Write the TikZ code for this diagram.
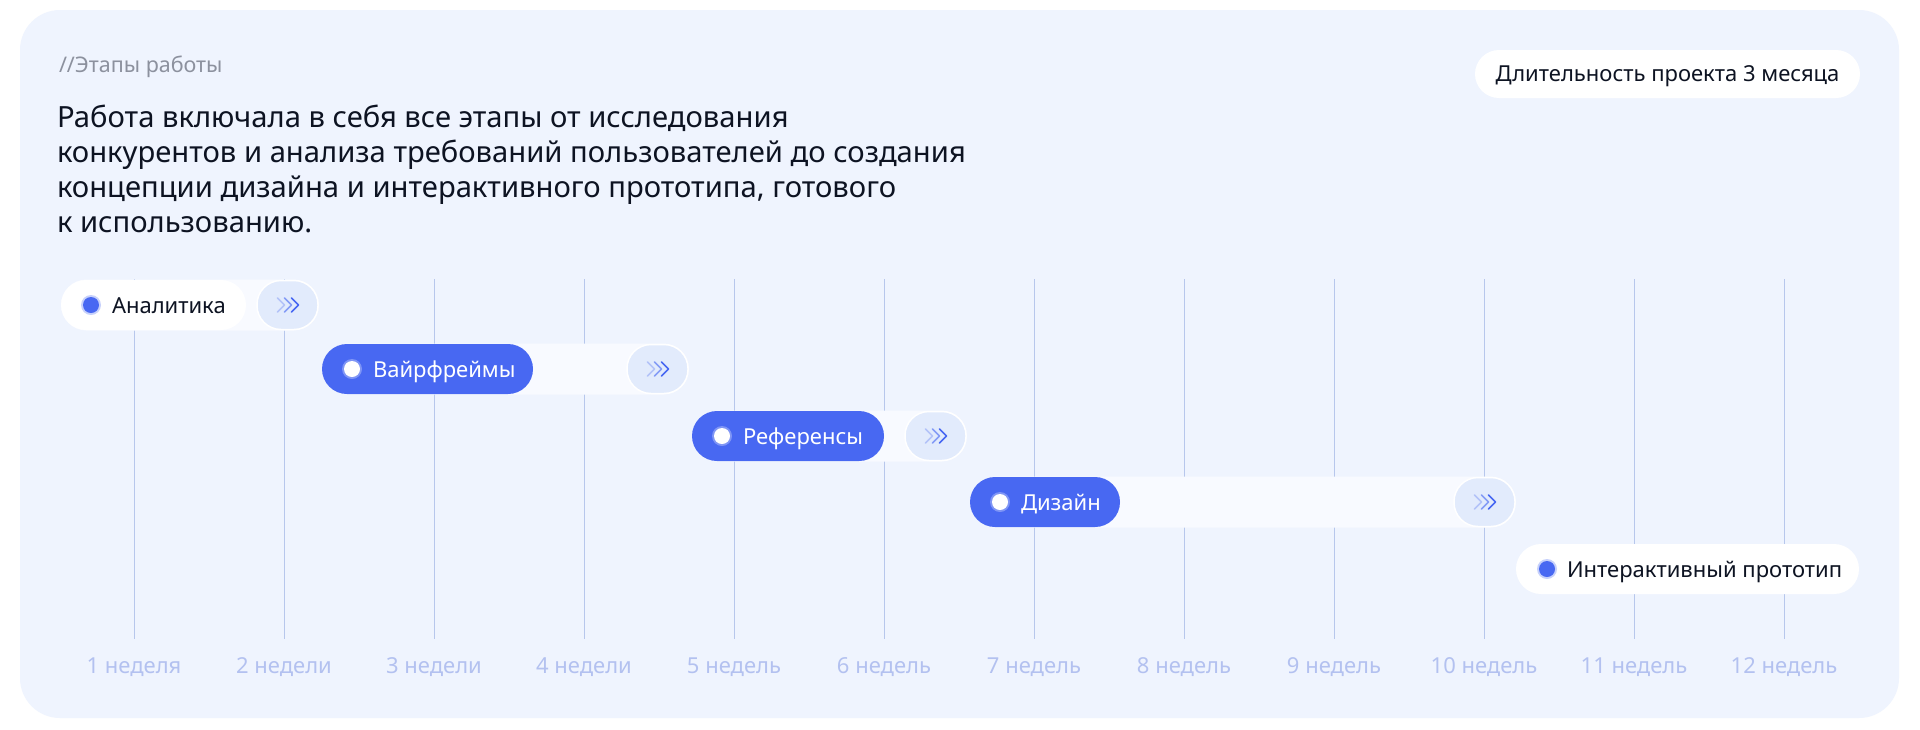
\documentclass[tikz,border=0pt]{standalone}
\usepackage{fontspec}
\setmainfont{Noto Sans}
\definecolor{panelbg}{HTML}{EFF4FE}
\definecolor{trackc}{HTML}{F8FAFF}
\definecolor{badgec}{HTML}{E2EBFC}
\definecolor{bluec}{HTML}{4868F2}
\definecolor{gridc}{HTML}{B7C7EC}
\definecolor{weekc}{HTML}{B3C1F0}
\definecolor{greyc}{HTML}{8C919E}
\definecolor{darkc}{HTML}{0D1322}
\newcommand\stagefont{\fontsize{22}{26}\selectfont}
\newcommand\introfont{\fontsize{29.2}{35}\selectfont}
\tikzset{
  txt/.style={inner sep=0pt, outer sep=0pt},
  badge/.style={rectangle, rounded corners=24pt, minimum width=61pt, minimum height=49pt, fill=badgec, draw=white, line width=1.5pt, inner sep=0pt},
  chev/.style={draw=bluec, line width=1.6pt, line cap=round, line join=round},
  dotn/.style={circle, inner sep=0pt, minimum size=16pt},
  gridline/.style={draw=gridc, line width=1pt},
  weeklbl/.style={txt, anchor=base, text=weekc, font=\stagefont},
}
% #1 name, #2 y, #3 left, #4 label right, #5 badge centre, #6 text, #7 pill, #8 dot, #9 text colour
\newcommand\stagebar[9]{%
  \fill[trackc, rounded corners=25.5pt] (#3,#2-25.5) rectangle (#5+31.5,#2+25.5);
  \node[badge] (#1b) at (#5,#2) {};
  \foreach \dx/\op in {0/0.3,7/0.6,14/1}{\draw[chev, opacity=\op] (#5-10+\dx,#2-7) -- ++(7,7) -- ++(-7,7);}
  \fill[#7, rounded corners=25pt] (#3,#2-25) rectangle (#4,#2+25);
  \fill[#8, opacity=0.3] (#3+30,#2) circle[radius=10];
  \node[dotn, fill=#8] (#1d) at (#3+30,#2) {};
  \node[txt, anchor=base west, text=#9, font=\stagefont] (#1t) at (#3+51,#2+8) {#6};
}
\begin{document}
\begin{tikzpicture}[x=1pt,y=-1pt]
\useasboundingbox (0,0) rectangle (1920,729);
\fill[white] (0,0) rectangle (1920,729);
\fill[panelbg, rounded corners=40pt] (20,10) rectangle (1899,718);

% grid and week labels
\foreach \i/\lbl in {0/1 неделя,1/2 недели,2/3 недели,3/4 недели,4/5 недель,5/6 недель,6/7 недель,7/8 недель,8/9 недель,9/10 недель,10/11 недель,11/12 недель}{
  \draw[gridline] (134+150*\i,279) -- (134+150*\i,639);
  \node[weeklbl] (w\i) at (134+150*\i,673) {\lbl};
}

% header
\node[txt, anchor=base west, text=greyc, font=\fontsize{21.5}{25}\selectfont] (hdr) at (59,72) {//Этапы работы};
\node[txt, anchor=base west, text=darkc, font=\introfont] (intro1) at (57,127) {Работа включала в себя все этапы от исследования};
\node[txt, anchor=base west, text=darkc, font=\introfont] (intro2) at (57,162) {конкурентов и анализа требований пользователей до создания};
\node[txt, anchor=base west, text=darkc, font=\introfont] (intro3) at (57,197) {концепции дизайна и интерактивного прототипа, готового};
\node[txt, anchor=base west, text=darkc, font=\introfont] (intro4) at (57,232) {к использованию.};

% duration pill
\node[rectangle, rounded corners=24pt, fill=white, minimum width=385pt, minimum height=48pt, inner sep=0pt] (dur) at (1667.5,74) {};
\node[txt, anchor=base, text=darkc, font=\fontsize{22}{26}\selectfont] (durt) at (1667.5,81.5) {Длительность проекта 3 месяца};

% stages
\stagebar{s1}{305}{61}{246}{287.5}{Аналитика}{white}{bluec}{darkc}
\stagebar{s2}{369}{322}{533}{657.5}{Вайрфреймы}{bluec}{white}{white}
\stagebar{s3}{436}{692}{884}{935.5}{Референсы}{bluec}{white}{white}
\stagebar{s4}{502}{970}{1120}{1484.5}{Дизайн}{bluec}{white}{white}

% final stage
\fill[white, rounded corners=25pt] (1516,544) rectangle (1859,594);
\fill[bluec, opacity=0.3] (1547,569) circle[radius=10];
\node[dotn, fill=bluec] (s5d) at (1547,569) {};
\node[txt, anchor=base west, text=darkc, font=\stagefont] (s5t) at (1567,577) {Интерактивный прототип};
\end{tikzpicture}
\end{document}
